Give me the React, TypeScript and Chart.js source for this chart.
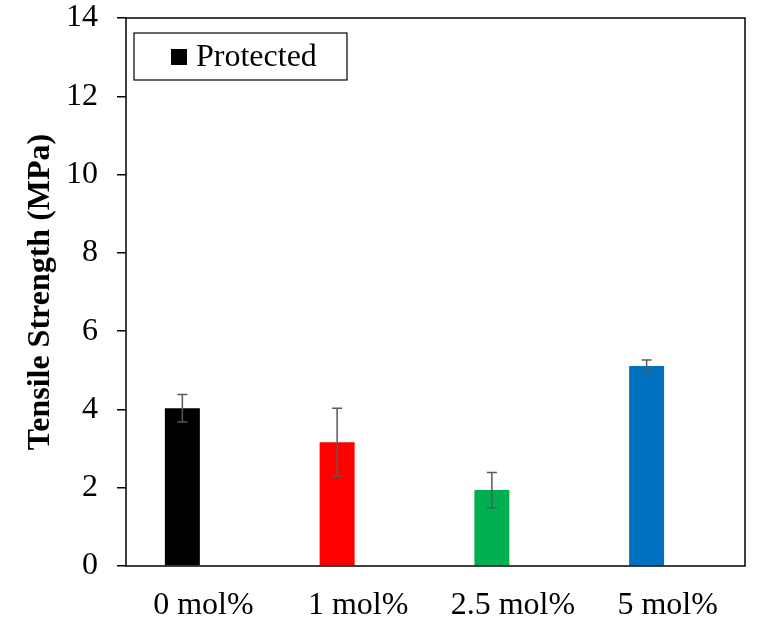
import React, { useEffect, useRef } from "react";
import { Chart, registerables } from "chart.js";

Chart.register(...registerables);

const categories = ["0 mol%", "1 mol%", "2.5 mol%", "5 mol%"];
const seriesLabel = "Protected";
const strengthValues = [4.03, 3.16, 1.94, 5.11];
const strengthErrors = [0.35, 0.87, 0.45, 0.15];
const placeholderValues = [null, null, null, null];
const barColors = ["#000000", "#FF0000", "#00B050", "#0070C0"];
const yTicks = [0, 2, 4, 6, 8, 10, 12, 14];

const FONT = "'Liberation Serif', 'Times New Roman', serif";

const frameAndExtras = {
  id: "frameAndExtras",
  afterDatasetsDraw(chart: any) {
    const { ctx, chartArea, scales } = chart;
    const meta = chart.getDatasetMeta(0);
    ctx.save();
    // error bars
    ctx.strokeStyle = "#595959";
    ctx.lineWidth = 1.5;
    meta.data.forEach((bar: any, i: number) => {
      const v = strengthValues[i];
      const e = strengthErrors[i];
      const x = bar.x;
      const yTop = scales.y.getPixelForValue(v + e);
      const yBot = scales.y.getPixelForValue(v - e);
      ctx.beginPath();
      ctx.moveTo(x, yTop);
      ctx.lineTo(x, yBot);
      ctx.moveTo(x - 5, yTop);
      ctx.lineTo(x + 5, yTop);
      ctx.moveTo(x - 5, yBot);
      ctx.lineTo(x + 5, yBot);
      ctx.stroke();
    });
    // frame
    ctx.strokeStyle = "#000000";
    ctx.lineWidth = 1.5;
    ctx.strokeRect(
      chartArea.left,
      chartArea.top,
      chartArea.right - chartArea.left,
      chartArea.bottom - chartArea.top
    );
    // legend
    const lx = chartArea.left + 8;
    const ly = chartArea.top + 15;
    const lw = 213;
    const lh = 47;
    ctx.fillStyle = "#ffffff";
    ctx.fillRect(lx, ly, lw, lh);
    ctx.lineWidth = 1.2;
    ctx.strokeRect(lx, ly, lw, lh);
    ctx.fillStyle = "#000000";
    ctx.fillRect(lx + 37, ly + 16, 16, 16);
    ctx.font = `32px ${FONT}`;
    ctx.textBaseline = "middle";
    ctx.textAlign = "left";
    ctx.fillText(chart.data.datasets[0].label, lx + 62, ly + lh / 2 + 1);
    ctx.restore();
  },
};

export default function App() {
  const ref = useRef<HTMLCanvasElement>(null);
  useEffect(() => {
    document.body.style.margin = "0";
    const chart = new Chart(ref.current!, {
      type: "bar",
      data: {
        labels: categories,
        datasets: [
          {
            label: seriesLabel,
            data: strengthValues,
            backgroundColor: barColors,
            categoryPercentage: 0.543,
            barPercentage: 0.833,
          },
          {
            label: "",
            data: placeholderValues as any,
            backgroundColor: "rgba(0,0,0,0)",
            categoryPercentage: 0.543,
            barPercentage: 0.833,
          },
        ],
      },
      options: {
        responsive: false,
        animation: false,
        layout: { padding: { left: 0, right: 12, top: 0, bottom: 0 } },
        plugins: {
          legend: { display: false },
          tooltip: { enabled: false },
        },
        scales: {
          x: {
            grid: { display: false, drawTicks: false },
            border: { display: false },
            ticks: {
              color: "#000",
              font: { family: FONT, size: 32 },
              padding: 20,
            },
            afterFit(scale: any) {
              scale.height = 54;
            },
          },
          y: {
            min: 0,
            max: 14,
            afterBuildTicks(scale: any) {
              scale.ticks = yTicks.map((v) => ({ value: v }));
            },
            grid: {
              drawOnChartArea: false,
              drawTicks: true,
              tickLength: 9,
              color: "#000",
              lineWidth: 1.5,
            },
            border: { display: false },
            ticks: {
              color: "#000",
              font: { family: FONT, size: 32 },
              padding: 19,
            },
            title: {
              display: true,
              text: "Tensile Strength (MPa)",
              color: "#000",
              font: { family: FONT, size: 32, weight: "bold" },
              padding: { top: 22, bottom: 0 },
            },
            afterFit(scale: any) {
              scale.width = 126;
              scale.paddingTop = 18;
              scale.paddingBottom = 0;
            },
          },
        },
      },
      plugins: [frameAndExtras],
    });
    return () => chart.destroy();
  }, []);
  return (
    <div style={{ width: 757, height: 620, background: "#fff" }}>
      <canvas ref={ref} width={757} height={620} />
    </div>
  );
}
